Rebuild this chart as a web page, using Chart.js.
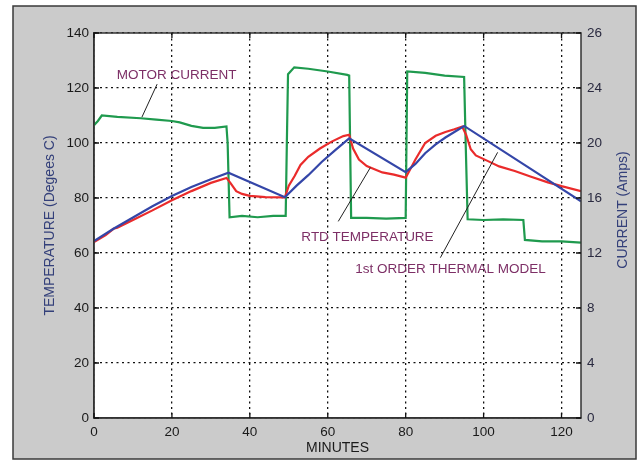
<!DOCTYPE html>
<html>
<head>
<meta charset="utf-8">
<script src="https://cdn.jsdelivr.net/npm/chart.js@4"></script>
<style>
  html, body { margin: 0; padding: 0; background: #fff; }
  #wrap { width: 641px; height: 463px; }
</style>
</head>
<body>
<div id="wrap"><canvas id="motorChart" width="641" height="463"></canvas></div>
<script>
// motor current, amps
const currentMinutes = [0, 1, 2, 6, 12, 16, 20, 22, 25, 28, 31, 34, 34.3, 34.8, 38, 42, 46, 49.2,
  49.5, 49.8, 51.4, 55, 60, 65, 65.5, 66, 70, 75, 80, 80.4, 85, 90, 95, 95.4, 95.9,
  100, 105, 110.2, 110.6, 115, 120, 125];
const currentAmps = [21.3, 21.6, 22.0, 21.9, 21.8, 21.7, 21.6, 21.5, 21.25, 21.1, 21.1, 21.2, 20.0, 14.6, 14.7, 14.6, 14.7, 14.7,
  20.0, 25.0, 25.5, 25.4, 25.2, 24.95, 24.9, 14.55, 14.55, 14.5, 14.55, 25.2, 25.1, 24.9, 24.8, 20.0, 14.45,
  14.4, 14.45, 14.4, 12.95, 12.85, 12.85, 12.75];

// RTD temperature, deg C
const rtdMinutes = [0, 3, 5, 6, 10, 15, 20, 25, 30, 34, 35, 36.5, 38, 40, 44, 49, 50, 51.5, 53, 55, 58, 61, 64, 65.5,
  66.5, 68, 70, 74, 77, 80, 81, 82.5, 85, 87.7, 90.2, 92.5, 94.5, 95.5, 96.7, 98, 101, 104, 108, 112, 116.5, 120, 125];
const rtdTemp = [64, 66.5, 68.8, 69.2, 72, 75.5, 79.2, 82.5, 85.5, 87.3, 85.5, 82.5, 81.5, 80.8, 80.3, 80.2, 84.5, 88, 92, 95, 98, 100.5, 102.5, 103,
  98, 94, 91.6, 89.3, 88.5, 87.4, 90, 94, 100, 102.6, 104, 105, 106, 103, 97.7, 95.5, 93.5, 91.5, 89.8, 87.8, 85.7, 84.3, 82.5];

// 1st order thermal model, deg C
const modelMinutes = [0, 5, 10, 15, 20, 25, 30, 34.5, 49, 52, 55, 58.5, 62, 65.5, 80, 82.5, 85, 87.7, 90.2, 95, 125];
const modelTemp = [64.3, 68.8, 72.9, 77, 80.7, 84, 86.8, 89.2, 80.3, 84.5, 88.3, 93.2, 97.5, 101.7, 89.4, 92.4, 96.3, 99.5, 102, 106.2, 78.8];

const minuteTicks = [0, 20, 40, 60, 80, 100, 120];
const tempTicks = [0, 20, 40, 60, 80, 100, 120, 140];
const ampTickLabels = ['0', '4', '8', '12', '16', '20', '24', '26'];

const labelNames = ['MOTOR CURRENT', 'RTD TEMPERATURE', '1st ORDER THERMAL MODEL'];

const toPoints = (xs, ys) => xs.map((x, i) => ({ x: x, y: ys[i] }));

const FONT = '"Liberation Sans", Arial, sans-serif';
const TEXT_PINK = '#7d2f66';
const AXIS_NAVY = '#34407a';

// annotation text + leader lines, in data units (minutes, deg C)
const notes = [
  { text: labelNames[0], at: [21.2, 124.7], from: [16.2, 121.4], to: [12.3, 109.4] },
  { text: labelNames[1], at: [70.2, 65.6], from: [62.7, 71.5], to: [70.95, 91.1] },
  { text: labelNames[2], at: [91.5, 54], from: [88.9, 58.3], to: [103.6, 96.6] }
];

const framePlugin = {
  id: 'frame',
  beforeDraw(chart) {
    const ctx = chart.ctx;
    const a = chart.chartArea;
    ctx.save();
    ctx.fillStyle = '#ffffff';
    ctx.fillRect(0, 0, chart.width, chart.height);
    ctx.fillStyle = '#cbcbcb';
    ctx.fillRect(13, 6, 623, 453);
    ctx.strokeStyle = '#3a3a3a';
    ctx.lineWidth = 1.5;
    ctx.strokeRect(13, 6, 623, 453);
    ctx.fillStyle = '#ffffff';
    ctx.fillRect(a.left, a.top, a.right - a.left, a.bottom - a.top);
    ctx.restore();
  },
  afterDraw(chart) {
    const ctx = chart.ctx;
    const a = chart.chartArea;
    const xs = chart.scales.x, ys = chart.scales.y;
    ctx.save();
    // box
    ctx.strokeStyle = '#333';
    ctx.lineWidth = 1.5;
    ctx.strokeRect(a.left, a.top, a.right - a.left, a.bottom - a.top);
    // inward ticks
    ctx.strokeStyle = '#111';
    ctx.lineWidth = 1.3;
    ctx.beginPath();
    minuteTicks.forEach(v => {
      const px = xs.getPixelForValue(v);
      ctx.moveTo(px, a.bottom); ctx.lineTo(px, a.bottom - 5);
      ctx.moveTo(px, a.top); ctx.lineTo(px, a.top + 5);
    });
    tempTicks.forEach(v => {
      const py = ys.getPixelForValue(v);
      ctx.moveTo(a.left, py); ctx.lineTo(a.left + 5, py);
      ctx.moveTo(a.right, py); ctx.lineTo(a.right - 5, py);
    });
    ctx.stroke();
    // notes
    ctx.font = '13.5px ' + FONT;
    ctx.textAlign = 'center';
    ctx.textBaseline = 'middle';
    notes.forEach(n => {
      ctx.strokeStyle = '#222';
      ctx.lineWidth = 1;
      ctx.beginPath();
      ctx.moveTo(xs.getPixelForValue(n.from[0]), ys.getPixelForValue(n.from[1]));
      ctx.lineTo(xs.getPixelForValue(n.to[0]), ys.getPixelForValue(n.to[1]));
      ctx.stroke();
      ctx.fillStyle = TEXT_PINK;
      ctx.fillText(n.text, xs.getPixelForValue(n.at[0]), ys.getPixelForValue(n.at[1]));
    });
    // right axis title, reading bottom to top
    ctx.translate(623, 210);
    ctx.rotate(-Math.PI / 2);
    ctx.fillStyle = AXIS_NAVY;
    ctx.font = '14px ' + FONT;
    ctx.fillText('CURRENT (Amps)', 0, 0);
    ctx.restore();
  }
};

new Chart(document.getElementById('motorChart'), {
  type: 'line',
  data: {
    datasets: [
      {
        label: '1st ORDER THERMAL MODEL',
        data: toPoints(modelMinutes, modelTemp),
        borderColor: '#3446a8',
        borderWidth: 2.2,
        pointRadius: 0,
        yAxisID: 'y'
      },
      {
        label: 'RTD TEMPERATURE',
        data: toPoints(rtdMinutes, rtdTemp),
        borderColor: '#ea2b2b',
        borderWidth: 2.2,
        pointRadius: 0,
        yAxisID: 'y'
      },
      {
        label: 'MOTOR CURRENT',
        data: toPoints(currentMinutes, currentAmps),
        borderColor: '#1f9a4e',
        borderWidth: 2.2,
        pointRadius: 0,
        yAxisID: 'y1'
      }
    ]
  },
  options: {
    responsive: false,
    animation: false,
    layout: { padding: { top: 33, left: 0, right: 0, bottom: 0 } },
    plugins: {
      legend: { display: false },
      tooltip: { enabled: false }
    },
    scales: {
      x: {
        type: 'linear',
        min: 0,
        max: 125,
        afterFit: s => { s.height = 45; },
        ticks: {
          stepSize: 20,
          includeBounds: false,
          padding: 6,
          color: '#1a1a1a',
          font: { family: FONT, size: 13.5 }
        },
        grid: { color: '#111', lineWidth: 1.3, drawTicks: false },
        border: { display: true, color: '#333', width: 1.5, dash: [2, 3.5] },
        title: {
          display: true,
          text: 'MINUTES',
          color: '#1a1a1a',
          font: { family: FONT, size: 14 },
          padding: { top: 0, bottom: 6 }
        }
      },
      y: {
        position: 'left',
        min: 0,
        max: 140,
        afterFit: s => { s.width = 94; },
        ticks: {
          stepSize: 20,
          padding: 5,
          color: '#1a1a1a',
          font: { family: FONT, size: 13.5 }
        },
        grid: { color: '#111', lineWidth: 1.3, drawTicks: false },
        border: { display: true, color: '#333', width: 1.5, dash: [2, 3.5] },
        title: {
          display: true,
          text: 'TEMPERATURE (Degees C)',
          color: AXIS_NAVY,
          font: { family: FONT, size: 14 },
          padding: { top: 42, bottom: 0 }
        }
      },
      y1: {
        position: 'right',
        min: 0,
        max: 28,
        afterFit: s => { s.width = 60; },
        ticks: {
          stepSize: 4,
          padding: 6,
          color: '#2a2a40',
          font: { family: FONT, size: 13.5 },
          callback: (v, i) => ampTickLabels[i]
        },
        grid: { display: false, drawTicks: false },
        border: { display: false }
      }
    }
  },
  plugins: [framePlugin]
});
</script>
</body>
</html>
